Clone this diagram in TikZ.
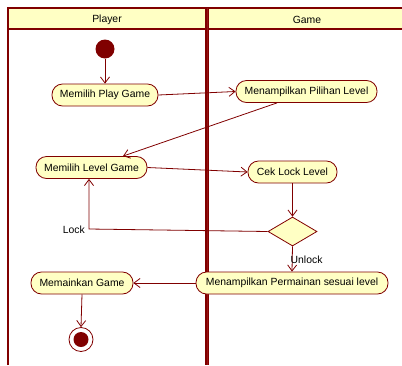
\documentclass[tikz,border=0pt]{standalone}
\usepackage{fontspec}
\setmainfont{Liberation Sans}
\usetikzlibrary{arrows.meta,shapes.geometric}
\definecolor{dred}{RGB}{128,0,0}
\definecolor{mred}{RGB}{150,20,20}
\definecolor{lyel}{RGB}{255,255,196}
\tikzset{
  act/.style={draw=dred, line width=0.8pt, fill=lyel, rounded corners=10.5pt, minimum height=22pt, inner sep=0pt, font=\fontsize{10.4}{12}\selectfont},
  arr/.style={draw=dred, line width=0.8pt, -{Straight Barb[length=6pt,width=9pt,line width=0.8pt]}},
  lane/.style={draw=dred, line width=1.8pt},
  lbl/.style={font=\fontsize{10.4}{12}\selectfont, inner sep=0pt},
}
\begin{document}
\begin{tikzpicture}[x=1pt,y=-1pt]
\useasboundingbox (0,0) rectangle (402,365);
% swimlanes
\fill[lyel] (8,8) rectangle (410,29);
\draw[lane] (8,365) -- (8,8) -- (410,8);
\draw[dred, line width=1.5pt] (8,29) -- (410,29);
\draw[dred, line width=4pt] (207,8) -- (207,365);
\draw[mred, line width=1pt] (207,8) -- (207,365);
\node[lbl] (hplayer) at (107,19.5) {Player};
\node[lbl] (hgame) at (307,19.5) {Game};
% nodes
\node[circle, fill=dred, minimum size=19pt, inner sep=0pt] (init) at (105,49) {};
\node[act, minimum width=106pt] (play) at (105,95) {Memilih Play Game};
\node[act, minimum width=141pt] (pilihan) at (306.5,91.5) {Menampilkan Pilihan Level};
\node[act, minimum width=111pt] (level) at (91.5,167.5) {Memilih Level Game};
\node[act, minimum width=89pt] (cek) at (292.5,172) {Cek Lock Level};
\node[diamond, draw=dred, line width=0.8pt, fill=lyel, minimum width=49pt, minimum height=29pt, inner sep=0pt] (dec) at (292.5,231.5) {};
\node[act, minimum width=102pt] (main) at (82,283) {Memainkan Game};
\node[act, minimum width=192pt] (perm) at (292,283) {Menampilkan Permainan sesuai level};
\node[circle, draw=dred, line width=0.8pt, fill=white, minimum size=24pt, inner sep=0pt] (final) at (81,339.5) {};
\node[circle, fill=dred, minimum size=15pt, inner sep=0pt] (finalin) at (final) {};
\coordinate (lockc) at (89,229);
% edges
\draw[arr] (init) -- (play);
\draw[arr] (play.east) -- (pilihan.west);
\draw[arr] ([xshift=-29.5pt]pilihan.south) -- ([xshift=31.5pt]level.north);
\draw[arr] (level.east) -- (cek.west);
\draw[arr] (cek.south) -- (dec.north);
\draw[arr] (dec.west) -- (lockc) -- (lockc |- level.south);
\node[lbl, anchor=east] (locklbl) at (85,230) {Lock};
\draw[arr] (dec.south) -- (perm.north);
\node[lbl, anchor=west] (unlocklbl) at (290.5,260) {Unlock};
\draw[arr] (perm.west) -- (main.east);
\draw[arr] (main.south) -- (final.north);
\end{tikzpicture}
\end{document}
